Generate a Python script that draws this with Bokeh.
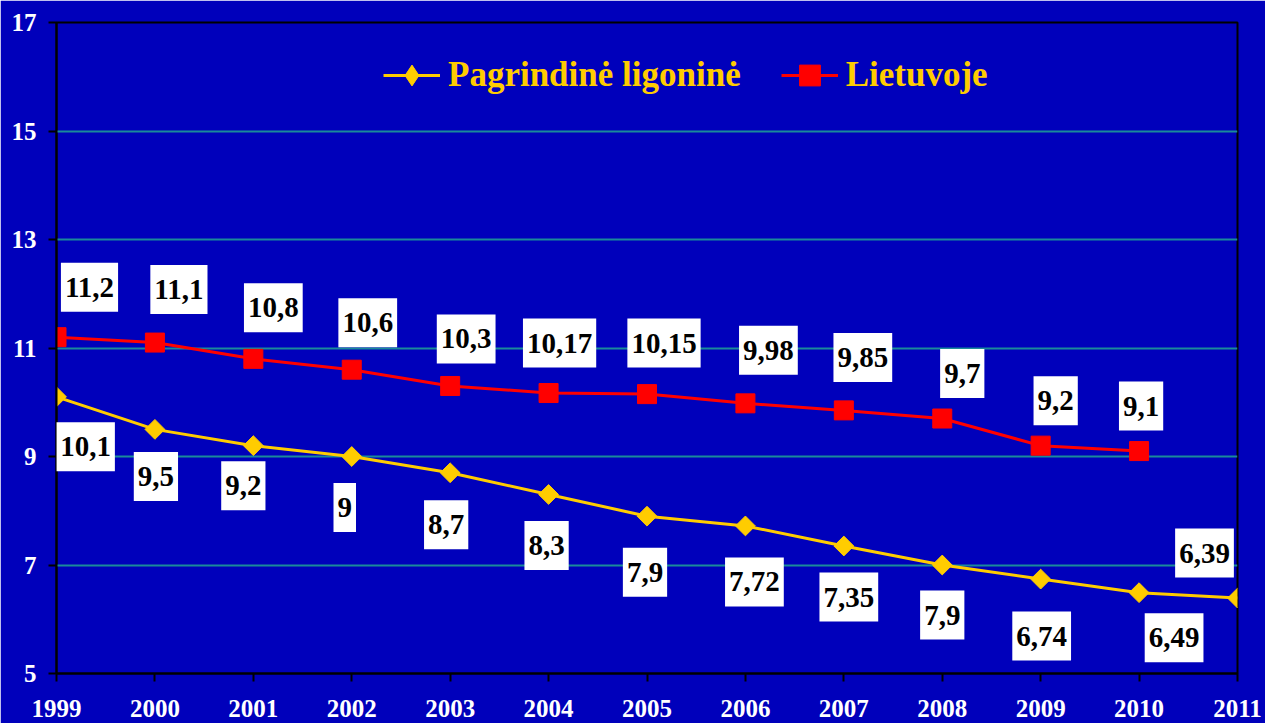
from bokeh.plotting import figure
from bokeh.models import ColumnDataSource, Legend, LegendItem, FixedTicker, Label
from bokeh.embed import file_html
from bokeh.resources import INLINE
import math

years = [1999, 2000, 2001, 2002, 2003, 2004, 2005, 2006, 2007, 2008, 2009, 2010, 2011]
ligonine = [10.1, 9.5, 9.2, 9.0, 8.7, 8.3, 7.9, 7.72, 7.35, 7.0, 6.74, 6.49, 6.39]
ligonine_labels = ["10,1", "9,5", "9,2", "9", "8,7", "8,3", "7,9", "7,72", "7,35", "7,9", "6,74", "6,49", "6,39"]
lt_years = years[:12]
lietuvoje = [11.2, 11.1, 10.8, 10.6, 10.3, 10.17, 10.15, 9.98, 9.85, 9.7, 9.2, 9.1]
lietuvoje_labels = ["11,2", "11,1", "10,8", "10,6", "10,3", "10,17", "10,15", "9,98", "9,85", "9,7", "9,2", "9,1"]
y_ticks = [5, 7, 9, 11, 13, 15, 17]

# label nudges (screen px, positive = up), styling only
lig_dx = [29, 1, -10, -7, -4, -2, -2, 9, 5, 0, 1, 35, -33]
lig_dy = [-50, -47, -40, -51, -52, -51, -56, -56, -51, -50, -57, -45, 45]
lt_dx = [33, 24, 20, 16, 16, 11, 17, 23, 19, 20, 15, 2]
lt_dy = [50, 53, 51, 47, 47, 50, 51, 53, 53, 45, 45, 45]

BG = "#0000BB"
YEL = "#FFCC00"
RED = "#FF0000"
FONT = "Liberation Serif"

p = figure(frame_width=1181, frame_height=651, x_range=(1999, 2011), y_range=(5, 17),
           output_backend="svg", toolbar_location=None,
           min_border_left=56, min_border_top=22, min_border_right=28, min_border_bottom=50,
           background_fill_color=BG, border_fill_color=BG)

p.outline_line_color = "black"
p.outline_line_width = 2
p.xgrid.visible = False
p.ygrid.grid_line_color = "#1A8A9A"
p.ygrid.grid_line_width = 2
p.ygrid.ticker = FixedTicker(ticks=y_ticks)

for ax in (p.xaxis[0], p.yaxis[0]):
    ax.axis_line_color = "black"
    ax.axis_line_width = 2
    ax.major_tick_line_color = "black"
    ax.major_tick_line_width = 2
    ax.major_tick_in = 0
    ax.major_tick_out = 8
    ax.minor_tick_line_color = None
    ax.major_label_text_color = "white"
    ax.major_label_text_font = FONT
    ax.major_label_text_font_style = "bold"
    ax.major_label_text_font_size = "25px"

p.xaxis.ticker = FixedTicker(ticks=years)
p.xaxis.major_label_standoff = 18
p.yaxis.ticker = FixedTicker(ticks=y_ticks)
p.yaxis.major_label_standoff = 12

src_l = ColumnDataSource(dict(x=years, y=ligonine))
src_r = ColumnDataSource(dict(x=lt_years, y=lietuvoje))

l1 = p.line("x", "y", source=src_l, line_color=YEL, line_width=3)
p.scatter("x", "y", source=src_l, marker="square", angle=math.pi / 4, size=14,
          fill_color=YEL, line_color=YEL)
l2 = p.line("x", "y", source=src_r, line_color=RED, line_width=3)
m2 = p.scatter("x", "y", source=src_r, marker="square", size=19,
               fill_color=RED, line_color=RED)
# legend-only diamond (hidden in the plot)
m1 = p.scatter("x", "y", source=src_l, marker="diamond", fill_color=YEL, line_color=YEL,
               visible=False)

def add_labels(xs, ys, texts, dxs, dys):
    for x, y, t, dx, dy in zip(xs, ys, texts, dxs, dys):
        p.add_layout(Label(x=x, y=y, text=t, x_offset=dx, y_offset=dy,
                           text_align="center", text_baseline="middle",
                           text_font=FONT, text_font_style="bold", text_font_size="29px",
                           text_color="black", background_fill_color="white",
                           padding=(4, 15), level="overlay"))

add_labels(years, ligonine, ligonine_labels, lig_dx, lig_dy)
add_labels(lt_years, lietuvoje, lietuvoje_labels, lt_dx, lt_dy)

legend = Legend(items=[LegendItem(label="Pagrindinė ligoninė", renderers=[l1, m1]),
                       LegendItem(label="Lietuvoje", renderers=[l2, m2])],
                orientation="horizontal", location=(327, 572),
                background_fill_alpha=0, border_line_color=None,
                inactive_fill_alpha=0,
                label_text_color=YEL, label_text_font=FONT, label_text_font_style="bold",
                label_text_font_size="35px", glyph_width=57, glyph_height=52,
                label_height=52, label_standoff=8, spacing=40, padding=0, margin=0)
p.add_layout(legend, "center")

open("out.html", "w").write(file_html(p, INLINE))
